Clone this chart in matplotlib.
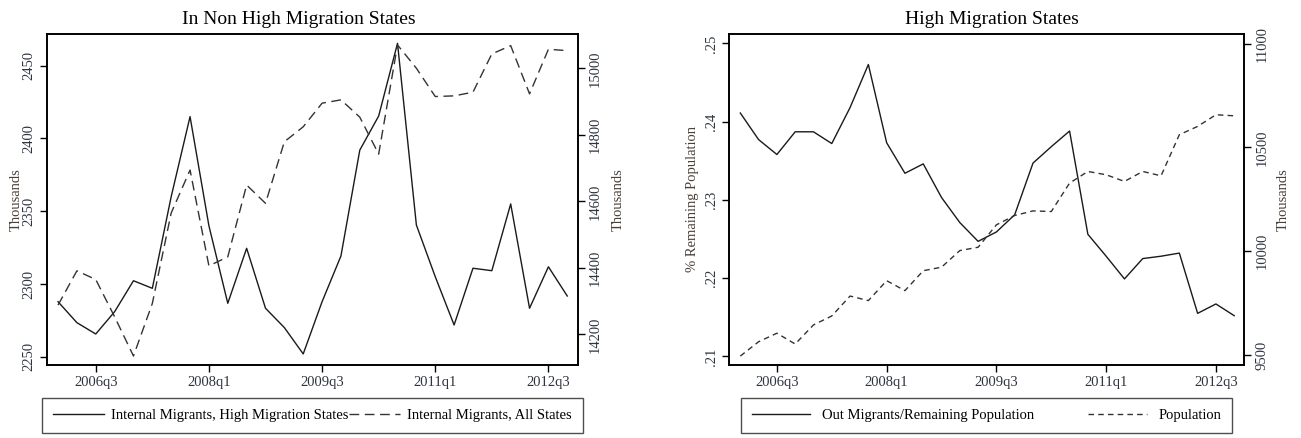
import numpy as np
import matplotlib
matplotlib.use('Agg')
from matplotlib import pyplot as plt

plt.rcParams['font.family'] = ['Liberation Serif', 'DejaVu Serif']

quarters = ['2006q1', '2006q2', '2006q3', '2006q4', '2007q1', '2007q2', '2007q3', '2007q4',
            '2008q1', '2008q2', '2008q3', '2008q4', '2009q1', '2009q2', '2009q3', '2009q4',
            '2010q1', '2010q2', '2010q3', '2010q4', '2011q1', '2011q2', '2011q3', '2011q4',
            '2012q1', '2012q2', '2012q3', '2012q4']
tick_labels = ['2006q3', '2008q1', '2009q3', '2011q1', '2012q3']

# left panel: migrants (thousands)
mig_high = [2287.8, 2273.4, 2265.6, 2280.9, 2302.2, 2297.0, 2360.0, 2415.0,
            2340.0, 2286.7, 2324.5, 2283.3, 2270.0, 2251.9, 2287.8, 2319.2,
            2392.0, 2415.4, 2465.4, 2340.5, 2305.0, 2271.8, 2310.8, 2309.1,
            2355.0, 2283.3, 2311.8, 2291.7]
mig_all = [14288, 14391, 14365, 14253, 14135, 14293, 14565, 14694,
           14406, 14433, 14649, 14594, 14779, 14824, 14895, 14905,
           14853, 14742, 15070, 15000, 14915, 14917, 14928, 15043,
           15068, 14923, 15057, 15053]

# right panel: share and population
out_share = [0.2411, 0.2377, 0.2358, 0.2387, 0.2387, 0.2372, 0.2418, 0.2473,
             0.2373, 0.2334, 0.2346, 0.2303, 0.2271, 0.2247, 0.2259, 0.2281,
             0.2347, 0.2368, 0.2388, 0.2256, 0.2228, 0.2199, 0.2225, 0.2228,
             0.2232, 0.2155, 0.2167, 0.2152]
population = [9495, 9564, 9605, 9553, 9645, 9688, 9784, 9762,
              9858, 9810, 9906, 9923, 10003, 10019, 10127, 10172,
              10194, 10191, 10328, 10384, 10368, 10336, 10384, 10363,
              10561, 10601, 10657, 10652]

x = np.arange(len(quarters))
tick_pos = [quarters.index(t) for t in tick_labels]

tick_col = '#2e3440'
lab_col = '#4a3f35'

fig = plt.figure(figsize=(13.01, 4.38), dpi=100)


def style(ax, ax2, lyticks, ryticks, lfmt, ylim, y2lim, ylab, y2lab, lx, rx):
    ax.set_xlim(-0.6, 27.55)
    ax.set_ylim(*ylim)
    ax2.set_ylim(*y2lim)
    ax.set_xticks(tick_pos)
    ax.set_xticklabels(tick_labels, fontsize=10.5, color=tick_col)
    ax.set_yticks(lyticks)
    ax.set_yticklabels([lfmt(v) for v in lyticks], fontsize=10.5, color=tick_col,
                       rotation=90, va='center')
    ax2.set_yticks(ryticks)
    ax2.set_yticklabels([str(v) for v in ryticks], fontsize=10.5, color=tick_col,
                        rotation=90, va='center')
    for a in (ax, ax2):
        a.tick_params(direction='out', length=5, width=1, pad=3)
        for s in a.spines.values():
            s.set_linewidth(1.2)
    ax.set_ylabel(ylab, fontsize=10.5, color=lab_col)
    ax2.set_ylabel(y2lab, fontsize=10.5, color=lab_col)
    ax.yaxis.set_label_coords(lx, 0.5)
    ax2.yaxis.set_label_coords(rx, 0.5)


# left panel
ax = fig.add_axes([0.0359, 0.1667, 0.4081, 0.7557])
ax2 = ax.twinx()
l1, = ax.plot(x, mig_high, color='#1a1a1a', lw=1.0)
l2, = ax2.plot(x, mig_all, color='#333333', lw=1.0, dashes=(7, 4))
style(ax, ax2, [2250, 2300, 2350, 2400, 2450], [14200, 14400, 14600, 14800, 15000],
      lambda v: str(v), (2244.3, 2471.8), (14108, 15103), 'Thousands', 'Thousands',
      -0.045, 1.065)
ax.set_title('In Non High Migration States', fontsize=14, pad=7, x=0.475)
fig.legend([l1, l2], ['Internal Migrants, High Migration States', 'Internal Migrants, All States'],
           loc='lower left', bbox_to_anchor=(0.0323, 0.0114, 0.4158, 0.075), mode='expand',
           borderaxespad=0, ncol=2, fontsize=10.5, frameon=True, fancybox=False,
           edgecolor='#222222', handlelength=3.5, handletextpad=0.5, columnspacing=0.1,
           borderpad=0.75)

# right panel
bx = fig.add_axes([0.5606, 0.1667, 0.3958, 0.7557])
bx2 = bx.twinx()
m1, = bx.plot(x, out_share, color='#1a1a1a', lw=1.0)
m2, = bx2.plot(x, population, color='#333333', lw=1.0, dashes=(4, 3))
style(bx, bx2, [0.21, 0.22, 0.23, 0.24, 0.25], [9500, 10000, 10500, 11000],
      lambda v: ('%.2f' % v)[1:], (0.2089, 0.2512), (9452, 11046),
      '% Remaining Population', 'Thousands', -0.058, 1.063)
bx.set_title('High Migration States', fontsize=14, pad=7, x=0.51)
fig.legend([m1, m2], ['Out Migrants/Remaining Population', 'Population'],
           loc='lower left', bbox_to_anchor=(0.5696, 0.0114, 0.3774, 0.075), mode='expand',
           borderaxespad=0, ncol=2, fontsize=10.5, frameon=True, fancybox=False,
           edgecolor='#222222', handlelength=4, handletextpad=0.8, columnspacing=1.0,
           borderpad=0.75)

fig.savefig('out.png', dpi=100)
